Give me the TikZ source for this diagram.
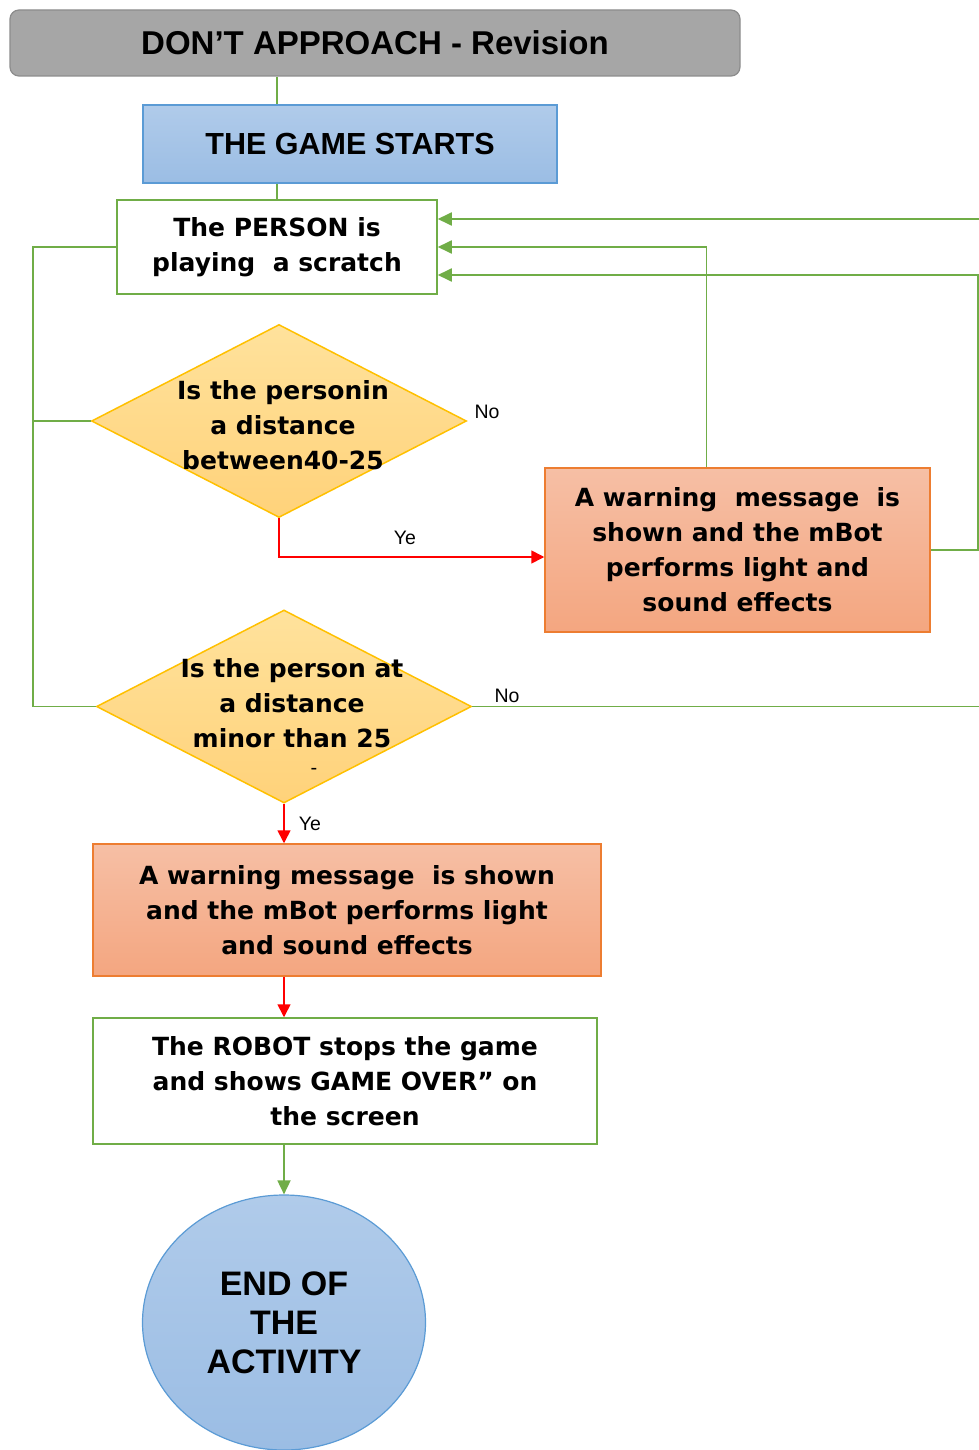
\documentclass[tikz,border=0pt]{standalone}
\usepackage{fontspec}
\setmainfont{Liberation Sans}
\newfontfamily\boxfont{DejaVu Sans}
\usetikzlibrary{shapes.geometric,arrows.meta}
\definecolor{flowgreen}{HTML}{70AD47}
\definecolor{flowblue}{HTML}{5B9BD5}
\definecolor{floworange}{HTML}{ED7D31}
\definecolor{flowgold}{HTML}{FFC000}
\tikzstyle{blue state}=[
    draw = flowblue,
    line width = 1.2pt,
    top color = {rgb,255:red,176;green,203;blue,234},
    bottom color = {rgb,255:red,155;green,189;blue,228}
]
\tikzstyle{orange state}=[
    draw = floworange,
    line width = 1.5pt,
    top color = {rgb,255:red,246;green,191;blue,165},
    bottom color = {rgb,255:red,244;green,166;blue,128},
    align = center,
    font = {\boxfont\bfseries\fontsize{25}{35}\selectfont}
]
\tikzstyle{green state}=[
    draw = flowgreen,
    line width = 1.5pt,
    fill = white,
    align = center,
    font = {\boxfont\bfseries\fontsize{25}{35}\selectfont}
]
\tikzstyle{question}=[
    diamond,
    draw = flowgold,
    line width = 1.5pt,
    inner sep = 0pt,
    top color = {rgb,255:red,255;green,226;blue,156},
    bottom color = {rgb,255:red,255;green,210;blue,122}
]

\begin{document}
\begin{tikzpicture}[x=1pt, y=-1pt,
    link/.style = {draw = flowgreen, line width = 1.8pt},
    go/.style = {link, -{Triangle[length=14pt, width=13pt]}},
    yes/.style = {draw = red, line width = 1.6pt, -{Triangle[length=13pt, width=13pt]}},
    answer/.style = {font = \fontsize{19.5}{22}\selectfont},
    asking/.style = {align = center, inner sep = 0pt, font = {\boxfont\bfseries\fontsize{25}{35}\selectfont}}]
    \useasboundingbox (0,0) rectangle (979,1450);

    \node[draw = {rgb,255:red,140;green,140;blue,140}, fill = {rgb,255:red,166;green,166;blue,166},
        line width = 1.2pt, rounded corners = 9pt, minimum width = 730pt, minimum height = 66pt,
        font = \bfseries\fontsize{33}{38}\selectfont] (title) at (375,43) {DON’T APPROACH - Revision};
    \node[blue state, minimum width = 414pt, minimum height = 78pt,
        font = \bfseries\fontsize{30.5}{34}\selectfont] (start) at (350,144) {THE GAME STARTS};
    \node[green state, minimum width = 320pt, minimum height = 94pt] (person) at (277,247)
        {The PERSON is\\playing \ a scratch};

    \node[question, minimum width = 375pt, minimum height = 193pt] (q1) at (279,421) {};
    \node[asking] (q1 text) at (283,425) {Is the personin\\a distance\\between40-25};
    \node[orange state, minimum width = 385pt, minimum height = 164pt] (warn1) at (737.5,550)
        {A warning \ message \ is\\shown and the mBot\\performs light and\\sound effects};

    \node[question, minimum width = 375pt, minimum height = 193pt] (q2) at (284,706.5) {};
    \node[asking] (q2 text) at (292,703) {Is the person at\\a distance\\minor than 25};
    \node[inner sep = 0pt, font = \fontsize{20}{20}\selectfont] (q2 dash) at (314,771) {-};

    \node[orange state, minimum width = 508pt, minimum height = 132pt] (warn2) at (347,910)
        {A warning message \ is shown\\and the mBot performs light\\and sound effects};
    \node[green state, minimum width = 504pt, minimum height = 126pt] (robot) at (345,1081)
        {The ROBOT stops the game\\and shows GAME OVER” on\\the screen};
    \node[blue state, ellipse, minimum width = 283pt, minimum height = 255pt, align = center,
        font = \bfseries\fontsize{34}{39}\selectfont] (end) at (284,1322.5) {END OF\\THE\\ACTIVITY};

    \coordinate (rail) at (33,247);
    \coordinate (far) at (990,706.5);
    \coordinate (edge) at (978,550);

    \draw[link] (title.south -| person.north) -- (start.north -| person.north);
    \draw[link] (start.south -| person.north) -- (person.north);
    \draw[link] (person.west) -- (rail) |- (q2.west);
    \draw[link] (q1.west) -- (q1.west -| rail);

    \draw[go] ([xshift=-31pt]warn1.north) |- (person.east);
    \draw[go] (warn1.east) -- (edge) |- ([yshift=-28pt]person.east);
    \draw[go] (q2.east) -- (far) |- ([yshift=28pt]person.east);

    \draw[yes] (q1.south) |- ([yshift=-7pt]warn1.west);
    \draw[yes] (q2.south) -- (q2.south |- warn2.north);
    \draw[yes] (warn2.south -| q2.south) -- (q2.south |- robot.north);
    \draw[go] (robot.south -| end.north) -- (end.north);

    \node[answer] (no1) at (487,412) {No};
    \node[answer] (yes1) at (405,538) {Ye};
    \node[answer] (no2) at (507,696) {No};
    \node[answer] (yes2) at (310,824) {Ye};
\end{tikzpicture}
\end{document}
